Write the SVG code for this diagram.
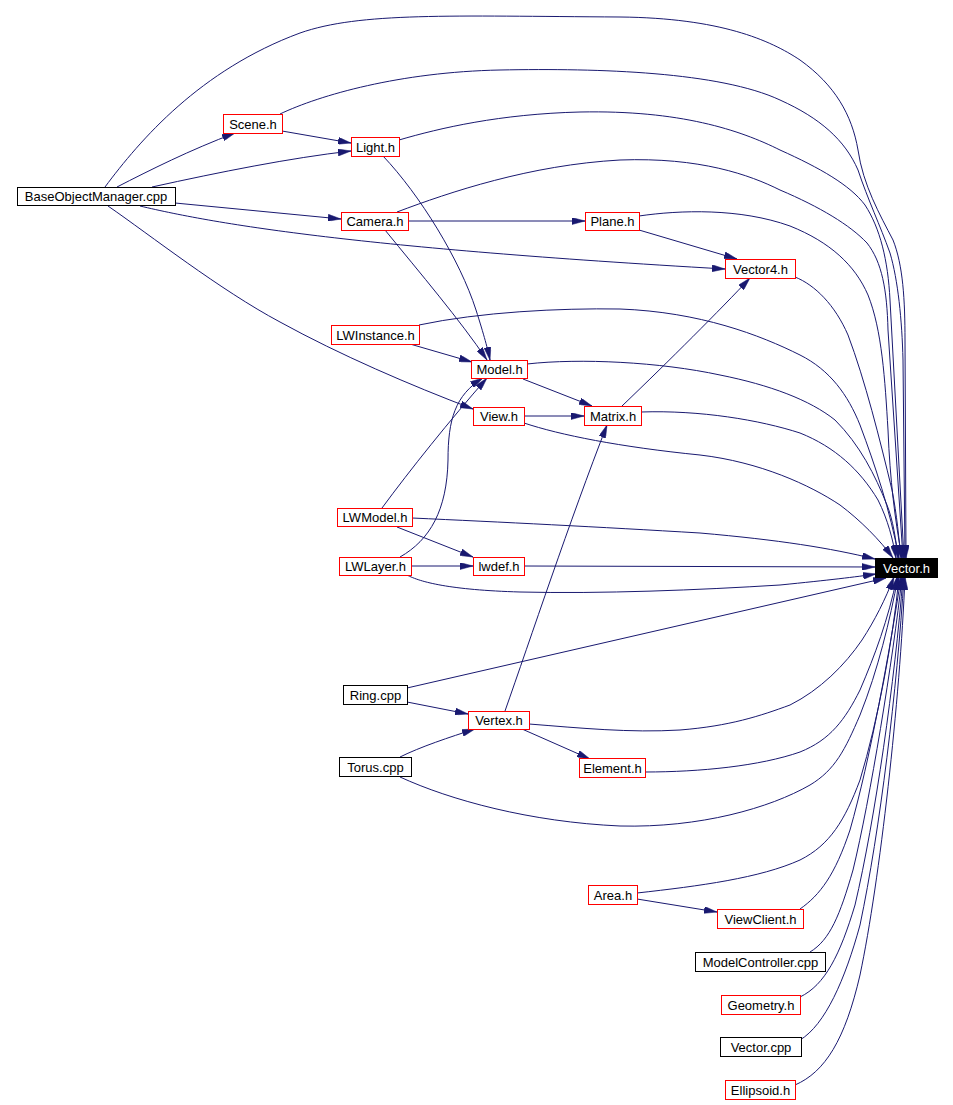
<svg xmlns="http://www.w3.org/2000/svg" width="953" height="1105" viewBox="0 0 953 1105">
<style>
.e{fill:none;stroke:#191970;stroke-width:1;marker-end:url(#ah)}
.n rect{fill:#fff;stroke:#ff0000;stroke-width:1}
.n.k rect{stroke:#000}
.n text{font-family:"Liberation Sans",Arial,Helvetica,sans-serif;font-size:13px;text-anchor:middle;fill:#000}
#n_vector_h rect{fill:#000;stroke:#000}
#n_vector_h text{fill:#fff}
</style>
<defs>
<marker id="ah" markerUnits="userSpaceOnUse" viewBox="0 0 13 7" refX="13" refY="3.5" markerWidth="13" markerHeight="7" orient="auto">
<path d="M0,0 L13,3.5 L0,7 z" fill="#191970" stroke="#191970" stroke-width="0.5"/>
</marker>
</defs>
<rect width="953" height="1105" fill="#fff"/>
<g id="edges">
<path class="e" d="M105,187 C140,140 200,70 300,33 C360,12 450,16 620,17 C720,18 770,40 800,60 C835,85 852,115 858,150 C863,185 880,215 893,240 C903,265 905,300 905,340 L906,558"/>
<path class="e" d="M280,114 C320,95 400,72 500,70 C600,68 720,72 780,100 C820,118 845,140 858,170 C868,200 880,225 890,253 C898,280 902,320 903,360 L905,558"/>
<path class="e" d="M399,140 C440,128 500,114 580,112 C680,110 740,130 780,150 C820,168 850,185 865,205 C880,228 888,260 890,300 L904,558"/>
<path class="e" d="M397,212 C450,192 530,165 620,160 C700,157 750,175 780,190 C820,207 850,225 867,243 C882,262 887,290 888,330 L903,558"/>
<path class="e" d="M639,216 C680,210 740,208 790,226 C830,242 855,265 868,295 C882,330 885,380 888,430 C890,480 895,520 902,558"/>
<path class="e" d="M795,277 C815,285 835,305 848,335 C865,380 880,440 892,490 C897,515 899,540 901,558"/>
<path class="e" d="M419,325 C480,312 560,308 620,309 C700,312 760,335 800,355 C830,370 848,395 860,425 C875,465 890,510 899,558"/>
<path class="e" d="M527,364 C580,358 660,362 720,375 C770,385 810,400 835,420 C860,445 875,475 887,505 C893,520 896,540 898,558"/>
<path class="e" d="M641,412 C700,410 760,420 800,433 C835,447 860,470 878,500 C888,520 893,540 896,558"/>
<path class="e" d="M524,423 C560,435 620,447 700,455 C760,462 810,485 840,505 C860,520 880,540 893,558"/>
<path class="e" d="M412,518 C500,522 600,527 700,533 C780,540 830,548 875,559"/>
<path class="e" d="M524,566 L875,567"/>
<path class="e" d="M407,575 C420,582 450,590 520,592 C600,594 700,590 780,585 C830,580 855,577 876,574"/>
<path class="e" d="M407,688 L886,578"/>
<path class="e" d="M529,724 C580,728 630,733 680,730 C730,726 760,716 790,705 C820,690 845,665 862,640 C875,620 885,600 894,577"/>
<path class="e" d="M645,772 C700,772 760,766 800,752 C830,740 845,720 860,690 C875,655 888,620 897,577"/>
<path class="e" d="M400,777 C450,800 530,822 620,826 C700,828 770,808 810,785 C835,770 845,750 860,715 C878,670 890,620 898,577"/>
<path class="e" d="M637,893 C700,886 760,878 800,860 C830,845 845,820 860,780 C878,720 893,640 899,577"/>
<path class="e" d="M800,909 C820,895 835,875 850,830 C870,760 890,650 901,577"/>
<path class="e" d="M810,952 C830,940 840,915 853,870 C870,800 893,660 902,577"/>
<path class="e" d="M800,997 C825,985 840,955 855,905 C875,820 895,680 903,577"/>
<path class="e" d="M800,1040 C825,1025 845,980 860,925 C880,830 897,690 904,577"/>
<path class="e" d="M795,1085 C825,1072 845,1040 860,975 C880,880 900,700 905,577"/>
<path class="e" d="M117,187 C150,170 190,150 235,133"/>
<path class="e" d="M152,187 C220,172 290,158 351,151"/>
<path class="e" d="M282,131 L351,143"/>
<path class="e" d="M175,203 L341,219"/>
<path class="e" d="M140,206 C220,225 360,248 725,269"/>
<path class="e" d="M108,206 C150,235 220,290 280,322 C340,355 410,385 473,409"/>
<path class="e" d="M383,156 C420,195 460,260 476,310 C484,335 488,350 490,360"/>
<path class="e" d="M385,230 C420,273 460,320 487,360"/>
<path class="e" d="M408,221 L585,221"/>
<path class="e" d="M639,230 L737,259"/>
<path class="e" d="M410,344 L472,362"/>
<path class="e" d="M523,379 L592,406"/>
<path class="e" d="M524,416 L584,416"/>
<path class="e" d="M622,406 C670,360 720,310 750,278"/>
<path class="e" d="M382,508 C410,470 450,420 487,378"/>
<path class="e" d="M400,557 C430,540 447,510 448,460 C448,420 455,395 483,378"/>
<path class="e" d="M397,527 L473,557"/>
<path class="e" d="M411,566 L473,566"/>
<path class="e" d="M407,702 L468,714"/>
<path class="e" d="M400,757 C420,747 450,737 475,729"/>
<path class="e" d="M522,729 L590,759"/>
<path class="e" d="M505,711 C530,640 570,520 607,425"/>
<path class="e" d="M637,899 L717,912"/>
</g>
<g id="n_baseobjectmanager_cpp" class="n k"><rect x="17.5" y="187.5" width="158" height="18"/><text x="96" y="201">BaseObjectManager.cpp</text></g>
<g id="n_scene_h" class="n"><rect x="223.5" y="114.5" width="59" height="19"/><text x="253" y="128.5">Scene.h</text></g>
<g id="n_light_h" class="n"><rect x="351.5" y="137.5" width="48" height="19"/><text x="375.5" y="151.5">Light.h</text></g>
<g id="n_camera_h" class="n"><rect x="341.5" y="212.5" width="67" height="18"/><text x="375" y="226">Camera.h</text></g>
<g id="n_plane_h" class="n"><rect x="585.5" y="212.5" width="54" height="18"/><text x="612.5" y="226">Plane.h</text></g>
<g id="n_vector4_h" class="n"><rect x="725.5" y="259.5" width="70" height="19"/><text x="760.5" y="273.5">Vector4.h</text></g>
<g id="n_lwinstance_h" class="n"><rect x="331.5" y="325.5" width="88" height="19"/><text x="375.5" y="339.5">LWInstance.h</text></g>
<g id="n_model_h" class="n"><rect x="471.5" y="360.5" width="56" height="18"/><text x="499.5" y="374">Model.h</text></g>
<g id="n_view_h" class="n"><rect x="473.5" y="407.5" width="51" height="18"/><text x="499" y="421">View.h</text></g>
<g id="n_matrix_h" class="n"><rect x="584.5" y="406.5" width="57" height="19"/><text x="613" y="420.5">Matrix.h</text></g>
<g id="n_lwmodel_h" class="n"><rect x="337.5" y="508.5" width="75" height="18"/><text x="375" y="522">LWModel.h</text></g>
<g id="n_lwlayer_h" class="n"><rect x="339.5" y="557.5" width="72" height="18"/><text x="375.5" y="571">LWLayer.h</text></g>
<g id="n_lwdef_h" class="n"><rect x="473.5" y="557.5" width="51" height="18"/><text x="499" y="571">lwdef.h</text></g>
<g id="n_vector_h" class="n"><rect x="875.5" y="558.5" width="62" height="19"/><text x="906.5" y="572.5">Vector.h</text></g>
<g id="n_ring_cpp" class="n k"><rect x="343.5" y="685.5" width="64" height="19"/><text x="375.5" y="699.5">Ring.cpp</text></g>
<g id="n_vertex_h" class="n"><rect x="468.5" y="711.5" width="61" height="18"/><text x="499" y="725">Vertex.h</text></g>
<g id="n_torus_cpp" class="n k"><rect x="339.5" y="757.5" width="72" height="19"/><text x="375.5" y="771.5">Torus.cpp</text></g>
<g id="n_element_h" class="n"><rect x="579.5" y="758.5" width="66" height="19"/><text x="612.5" y="772.5">Element.h</text></g>
<g id="n_area_h" class="n"><rect x="588.5" y="885.5" width="49" height="19"/><text x="613" y="899.5">Area.h</text></g>
<g id="n_viewclient_h" class="n"><rect x="717.5" y="909.5" width="86" height="19"/><text x="760.5" y="923.5">ViewClient.h</text></g>
<g id="n_modelcontroller_cpp" class="n k"><rect x="695.5" y="952.5" width="130" height="19"/><text x="760.5" y="966.5">ModelController.cpp</text></g>
<g id="n_geometry_h" class="n"><rect x="721.5" y="995.5" width="79" height="19"/><text x="761" y="1009.5">Geometry.h</text></g>
<g id="n_vector_cpp" class="n k"><rect x="720.5" y="1037.5" width="81" height="19"/><text x="761" y="1051.5">Vector.cpp</text></g>
<g id="n_ellipsoid_h" class="n"><rect x="725.5" y="1080.5" width="70" height="19"/><text x="760.5" y="1094.5">Ellipsoid.h</text></g>
</svg>
